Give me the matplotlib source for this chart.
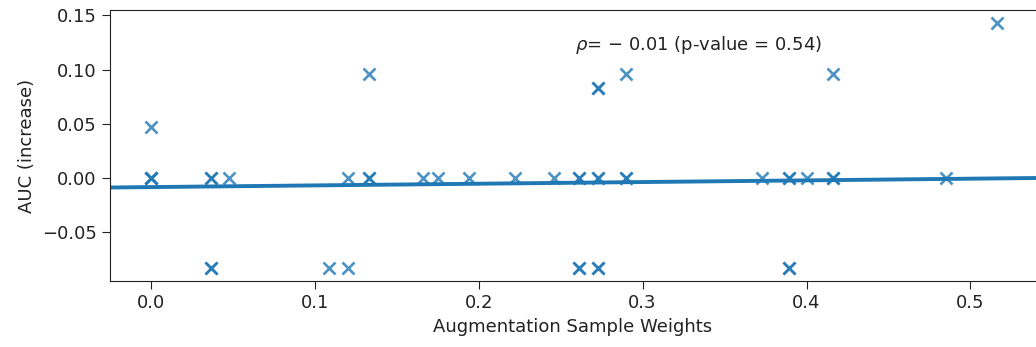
import numpy as np
import matplotlib
matplotlib.use("Agg")
import matplotlib.pyplot as plt

# Augmentation sample weight vs AUC increase (duplicates overlap -> darker marks)
weights = [0.0, 0.0, 0.0, 0.0,
           0.037, 0.037, 0.037, 0.037,
           0.048,
           0.1085,
           0.120, 0.120,
           0.133, 0.133, 0.133,
           0.166, 0.175, 0.194, 0.222, 0.246,
           0.261, 0.261, 0.261, 0.261,
           0.2726, 0.2726, 0.2726, 0.2726, 0.2726, 0.2726,
           0.2896, 0.2896, 0.2896,
           0.3726,
           0.3896, 0.3896, 0.3896, 0.3896,
           0.4006,
           0.4159, 0.4159, 0.4159,
           0.485,
           0.5165]
auc_increase = [0.047, 0.0, 0.0, 0.0,
                0.0, 0.0, -0.083, -0.083,
                0.0,
                -0.083,
                0.0, -0.083,
                0.0, 0.0, 0.096,
                0.0, 0.0, 0.0, 0.0, 0.0,
                0.0, 0.0, -0.083, -0.083,
                0.0, 0.0, 0.083, 0.083, -0.083, -0.083,
                0.0, 0.0, 0.096,
                0.0,
                0.0, 0.0, -0.083, -0.083,
                0.0,
                0.0, 0.0, 0.096,
                0.0,
                0.143]

# regression line (fit includes points off the right edge)
fit_intercept = -0.0083
fit_slope = 0.0155

x = np.array(weights)
y = np.array(auc_increase)

fig = plt.figure(figsize=(10.36, 3.47), dpi=100)
ax = fig.add_axes([0.106, 0.19, 0.894, 0.781])

ax.scatter(x, y, marker='x', s=75, linewidths=1.9, color='#1f77b4', alpha=0.8)

xlim = (-0.025, 0.54)
xs = np.linspace(xlim[0], xlim[1], 100)
ax.plot(xs, fit_intercept + fit_slope * xs, color='#1f77b4', lw=2.8)

ax.set_xlim(*xlim)
ax.set_ylim(-0.095, 0.155)
ax.set_xticks([0.0, 0.1, 0.2, 0.3, 0.4, 0.5])
ax.set_yticks([-0.05, 0.0, 0.05, 0.10, 0.15])
ax.set_yticklabels(['−0.05', '0.00', '0.05', '0.10', '0.15'])
ax.set_xticklabels(['0.0', '0.1', '0.2', '0.3', '0.4', '0.5'])
ax.tick_params(labelsize=13, length=6, colors='#222222')
ax.spines['right'].set_visible(False)
for s in ['left', 'top', 'bottom']:
    ax.spines[s].set_color('#222222')

ax.set_xlabel("Augmentation Sample Weights", fontsize=13, color='#222222')
ax.set_ylabel("AUC (increase)", fontsize=13, color='#222222')
ax.text(0.259, 0.123, r"$\rho$= − 0.01 (p-value = 0.54)", fontsize=13,
        ha='left', va='center', color='#222222')

fig.savefig("out.png", dpi=100)
